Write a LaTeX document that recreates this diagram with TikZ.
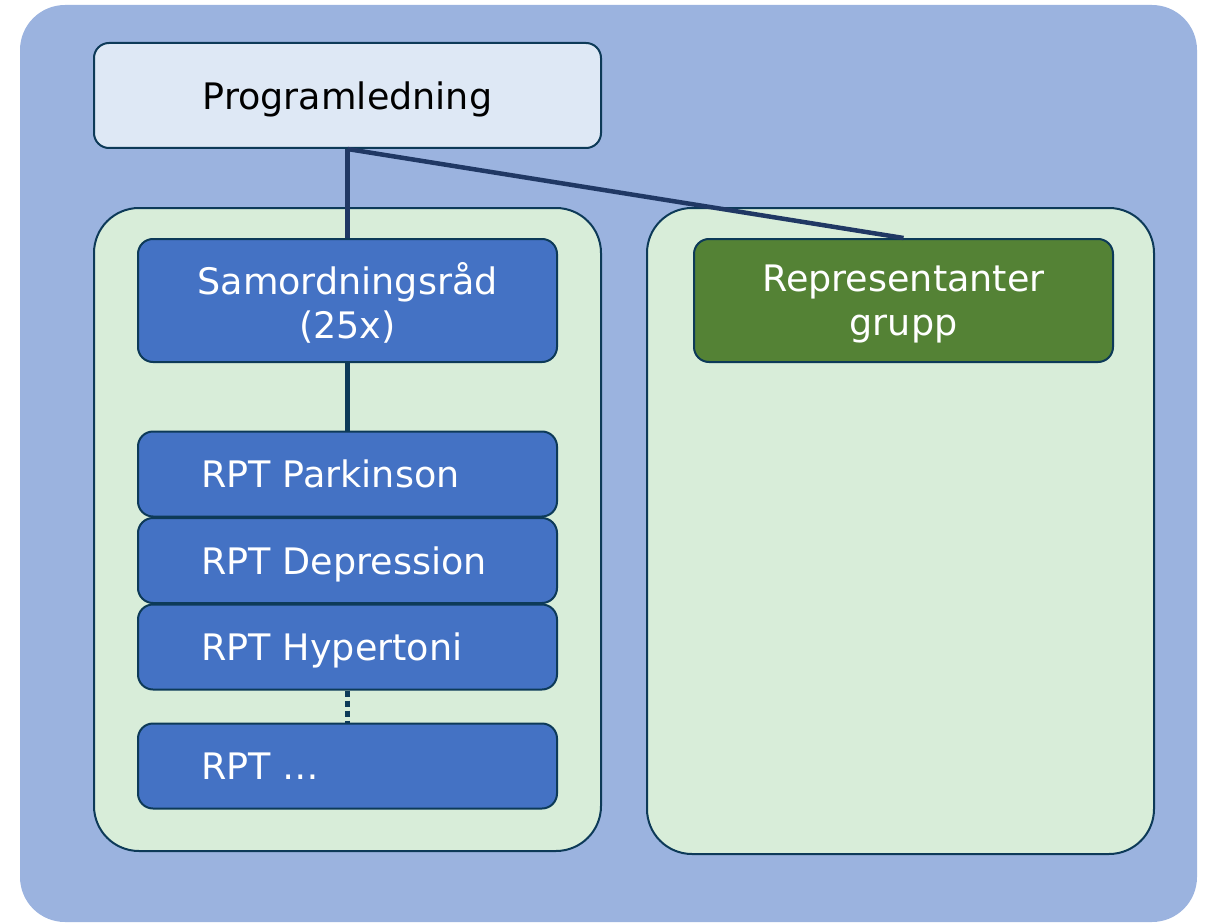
\documentclass[tikz,border=0pt]{standalone}
\usepackage{fontspec}
\setmainfont{DejaVu Sans}
\usepackage{tikz}
\usetikzlibrary{positioning}
\definecolor{outerbg}{HTML}{9BB3DF}
\definecolor{topfill}{HTML}{DEE8F5}
\definecolor{panelfill}{HTML}{D8EDD9}
\definecolor{bluebox}{HTML}{4472C4}
\definecolor{greenbox}{HTML}{548235}
\definecolor{edge}{HTML}{0D3A58}
\definecolor{link}{HTML}{203864}

\begin{document}
\begin{tikzpicture}[x=1pt,y=-1pt,
	panel/.style={draw=edge, line width=2pt, fill=panelfill, rounded corners=45pt, minimum width=507pt},
	box/.style={draw=edge, line width=2pt, rounded corners=15pt, minimum width=419pt, inner sep=0pt, text depth=0pt, text=white, font=\fontsize{36.5}{44}\selectfont},
	rpt/.style={box, fill=bluebox, minimum height=85pt, text width=293pt, inner xsep=63pt, align=left}]
				\useasboundingbox (0,0) rectangle (1213,923);
				\fill[outerbg, rounded corners=45pt] (20,5) rectangle (1197,922);
				%%%nodes
				%top
				\node[box, fill=topfill, text=black, minimum width=507pt, minimum height=105pt] at (347.5,95.5) (PL){Programledning};
				%panels
				\node[panel, minimum height=643pt] at (347.5,529.5) (LP){};
				\node[panel, minimum height=646pt] at (900.5,531) (RP){};
				%left panel
				\node[box, fill=bluebox, minimum height=123pt, align=center] at (347.5,300.5) (SR){Samordningsråd\\(25x)};
				\node[rpt] at (347.5,474) (P1){RPT Parkinson};
				\node[rpt] at (347.5,560.5) (P2){RPT Depression};
				\node[rpt] at (347.5,647) (P3){RPT Hypertoni};
				\node[rpt] at (347.5,766) (P4){RPT \dots};
				%right panel
				\node[box, fill=greenbox, minimum height=123pt, align=center] at (903.5,300.5) (RG){Representanter\\grupp};
				%%%links
				\draw[link, line width=4.5pt] (PL.south) -- (SR.north);
				\draw[link, line width=4.5pt] (PL.south) -- (RG.north);
				\draw[edge, line width=4.5pt] (SR.south) -- (P1.north);
				\draw[edge, line width=4.5pt, dash pattern=on 6pt off 4pt] (P3.south) -- (P4.north);
			\end{tikzpicture}
\end{document}
